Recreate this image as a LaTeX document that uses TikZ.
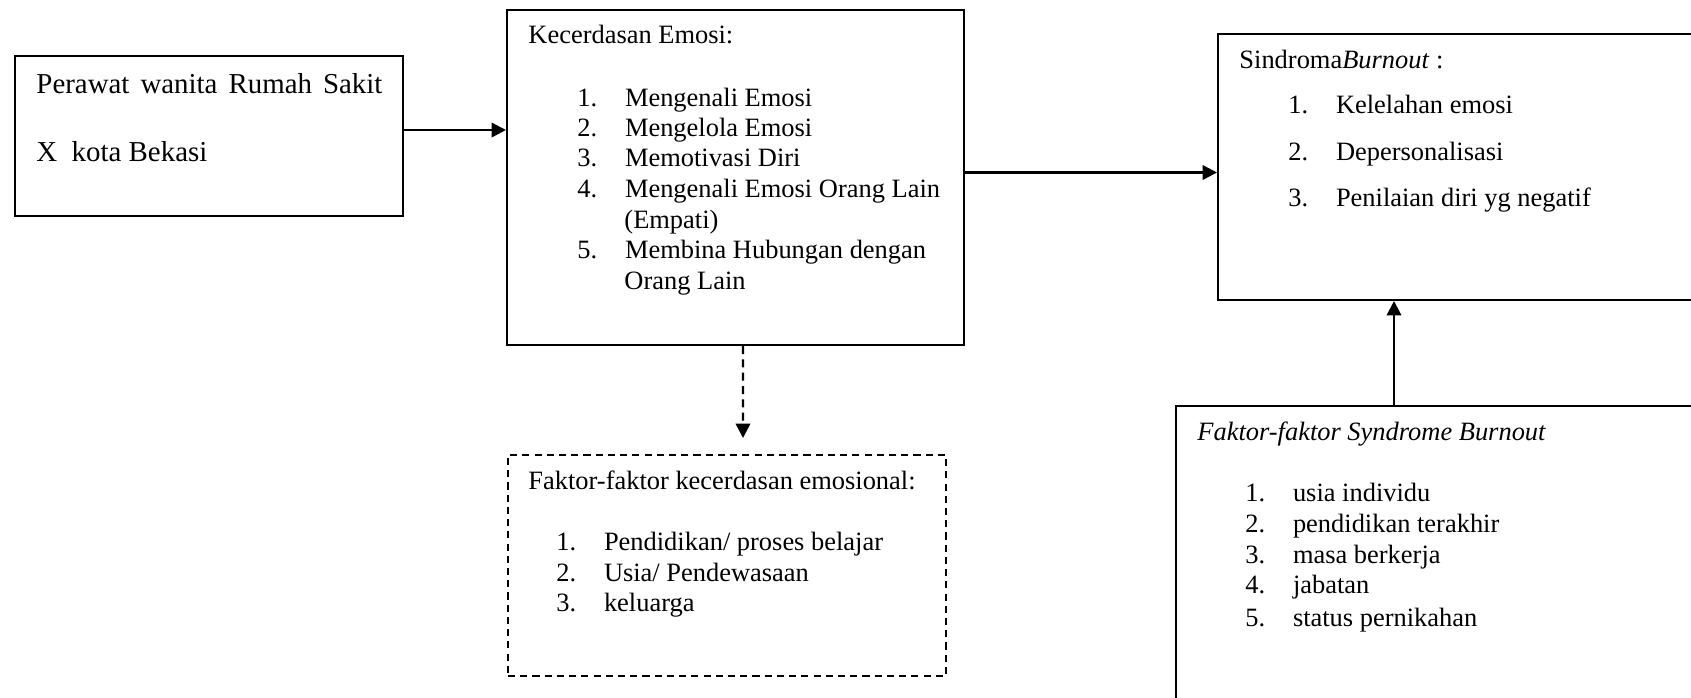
\documentclass[tikz,border=0pt]{standalone}
\usepackage{fontspec}
\setmainfont{Liberation Serif}
\usetikzlibrary{arrows.meta}

\newcommand{\nomor}[1]{\makebox[21.4pt][l]{#1}}

\tikzset{
  box/.style={draw, line width=0.9pt, inner sep=0pt},
  dbox/.style={box, dash pattern=on 3.2pt off 2.3pt},
  txt/.style={anchor=base west, inner sep=0pt, font=\fontsize{11.9}{13.7}\selectfont},
  bigtxt/.style={txt, font=\fontsize{13}{15}\selectfont},
  arr/.style={-{Triangle[length=6.5pt,width=6.5pt]}, line width=1.1pt},
}

\begin{document}
\begin{tikzpicture}[x=0.45pt,y=0.45pt,yscale=-1,xscale=1]
\useasboundingbox (0,0) rectangle (1691,697);
\clip (0,0) rectangle (1691,697);

%Shape: Rectangle [perawat]
\node[box, minimum width=388*0.45pt, minimum height=160*0.45pt] (perawat) at (209,136) {};
%Shape: Rectangle [emosi]
\node[box, minimum width=457*0.45pt, minimum height=335*0.45pt] (emosi) at (735.5,177.5) {};
%Shape: Rectangle [burnout]
\node[box, minimum width=502*0.45pt, minimum height=266*0.45pt] (burnout) at (1469,167) {};
%Shape: Rectangle dashed [faktor]
\node[dbox, minimum width=438*0.45pt, minimum height=221*0.45pt] (faktor) at (727,565.5) {};
%Shape: Rectangle [fsb]
\node[box, minimum width=544*0.45pt, minimum height=324*0.45pt] (fsb) at (1448,568) {};

%Straight Lines
\draw[arr] ([shift={(0,-6)}]perawat.east) coordinate (a1) -- (a1 -| emosi.west);
%Straight Lines
\draw[arr] ([shift={(0,-5)}]emosi.east) coordinate (a2) -- (a2 -| burnout.west);
%Straight Lines dashed
\draw[arr, dash pattern=on 3.6pt off 2.4pt] ([shift={(7.5,0)}]emosi.south) -- ([shift={(16,-16)}]faktor.north);
%Straight Lines
\draw[arr] ([shift={(-54,0)}]fsb.north) coordinate (a4) -- (a4 |- burnout.south);

% Text Node
\node[bigtxt] (perawat1) at (36,93) {\makebox[155.7pt][s]{Perawat wanita Rumah Sakit}};
\node[bigtxt] (perawat2) at (36,161) {X\ \ kota Bekasi};

% Text Node
\node[txt] (emosiT) at (528,43) {Kecerdasan Emosi:};
\node[txt] (emosi1) at (577,106) {\nomor{1.}Mengenali Emosi};
\node[txt] (emosi2) at (577,136) {\nomor{2.}Mengelola Emosi};
\node[txt] (emosi3) at (577,166) {\nomor{3.}Memotivasi Diri};
\node[txt] (emosi4) at (577,197) {\nomor{4.}Mengenali Emosi Orang Lain};
\node[txt] (emosi4b) at (624,228) {(Empati)};
\node[txt] (emosi5) at (577,258) {\nomor{5.}Membina Hubungan dengan};
\node[txt] (emosi5b) at (624,289) {Orang Lain};

% Text Node
\node[txt] (burnoutT) at (1239,68) {Sindroma\textit{Burnout} :};
\node[txt] (burnout1) at (1288,113) {\nomor{1.}Kelelahan emosi};
\node[txt] (burnout2) at (1288,160) {\nomor{2.}Depersonalisasi};
\node[txt] (burnout3) at (1288,206) {\nomor{3.}Penilaian diri yg negatif};

% Text Node
\node[txt] (faktorT) at (528,489) {Faktor-faktor kecerdasan emosional:};
\node[txt] (faktor1) at (556,550) {\nomor{1.}Pendidikan/ proses belajar};
\node[txt] (faktor2) at (556,581) {\nomor{2.}Usia/ Pendewasaan};
\node[txt] (faktor3) at (556,611) {\nomor{3.}keluarga};

% Text Node
\node[txt] (fsbT) at (1197,440) {\textit{Faktor-faktor Syndrome Burnout}};
\node[txt] (fsb1) at (1245,501) {\nomor{1.}usia individu};
\node[txt] (fsb2) at (1245,532) {\nomor{2.}pendidikan terakhir};
\node[txt] (fsb3) at (1245,563) {\nomor{3.}masa berkerja};
\node[txt] (fsb4) at (1245,593) {\nomor{4.}jabatan};
\node[txt] (fsb5) at (1245,626) {\nomor{5.}status pernikahan};

\end{tikzpicture}
\end{document}
